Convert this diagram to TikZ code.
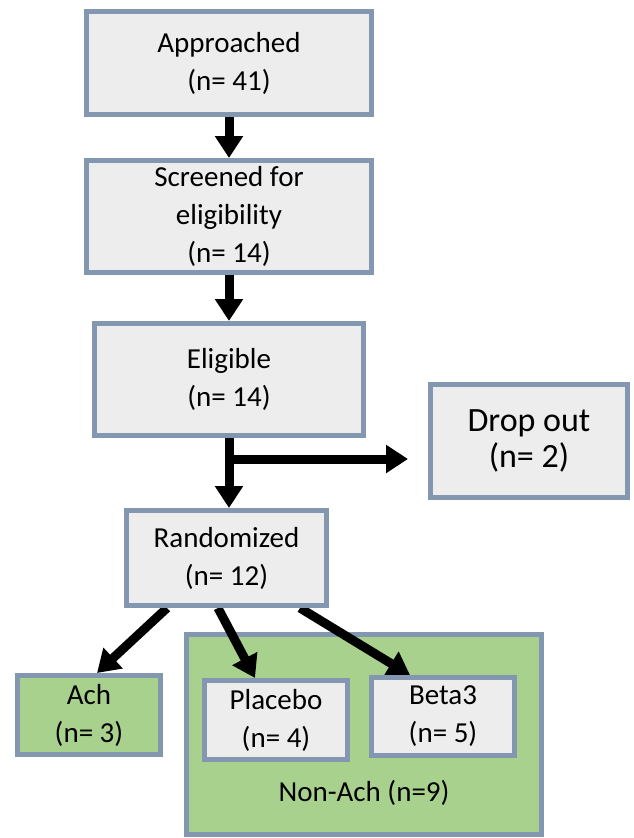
\documentclass[tikz,border=0pt]{standalone}
\usepackage{fontspec}
\setmainfont{Carlito}
\usetikzlibrary{arrows.meta,backgrounds}

\definecolor{boxline}{HTML}{8497B0}
\definecolor{boxfill}{HTML}{EDEDED}
\definecolor{boxgreen}{HTML}{A9D18E}

\begin{document}
\begin{tikzpicture}[x=1pt,y=-1pt,
  stage/.style={draw=boxline,line width=5pt,fill=boxfill,align=center,
    inner sep=0pt,font=\fontsize{29}{38}\selectfont},
  group/.style={stage,fill=boxgreen},
  arr/.style={line width=9pt,-{Triangle[width=27pt,length=22pt]}}]
\useasboundingbox (0,0) rectangle (633,838);
%%%%%%%%%%%%%%%%%%%%%%%%%%%%%%%%
%% main column
%%%%%%%%%%%%%%%%%%%%%%%%%%%%%%%%
\node[stage,minimum width=285pt,minimum height=103pt] (appr)   at (229,63)    {Approached\\(n= 41)};
\node[stage,minimum width=285pt,minimum height=112pt] (screen) at (229,216.5) {Screened for\\eligibility\\(n= 14)};
\node[stage,minimum width=269pt,minimum height=112pt] (elig)   at (229,379.5) {Eligible\\(n= 14)};
\node[stage,minimum width=197pt,minimum height=113pt,
      font=\fontsize{34}{36}\selectfont]              (drop)   at (529,441)   {Drop out\\(n= 2)};
\node[stage,minimum width=200pt,minimum height=95pt]  (rand)   at (226.5,558) {Randomized\\(n= 12)};
%
%%%%%%%%%%%%%%%%%%%%%%%%%%%%%%%%
%% arms
%%%%%%%%%%%%%%%%%%%%%%%%%%%%%%%%
\node[group,minimum width=143pt,minimum height=79pt] (ach)  at (89,715)    {Ach\\(n= 3)};
\node[stage,minimum width=143pt,minimum height=79pt] (plac) at (276,720)   {Placebo\\(n= 4)};
\node[stage,minimum width=143pt,minimum height=78pt] (beta) at (443,716.5) {Beta3\\(n= 5)};
\node[font=\fontsize{29}{38}\selectfont] (nonlabel) at (364,793) {Non-Ach (n=9)};
%
\coordinate (split)   at (229,459);
\coordinate (dropend) at (408,459);
%
\begin{pgfonlayer}{background}
\node[group,minimum width=355pt,minimum height=200pt] (nonach) at (364,734.5) {};
%% arrows
\draw[arr] (appr.south) -- (screen.north);
\draw[arr] (screen.south) -- (elig.north);
\draw[arr] (elig.south) -- (elig.south |- rand.north);
\draw[arr] (split) -- (dropend);
\draw[arr] ([xshift=-59.5pt]rand.south) -- ([xshift=8pt]ach.north);
\draw[arr] ([xshift=-8.5pt]rand.south)  -- ([xshift=-21pt]plac.north);
\draw[arr] ([xshift=73.5pt]rand.south)  -- ([xshift=-33pt]beta.north);
\end{pgfonlayer}
\end{tikzpicture}
\end{document}
